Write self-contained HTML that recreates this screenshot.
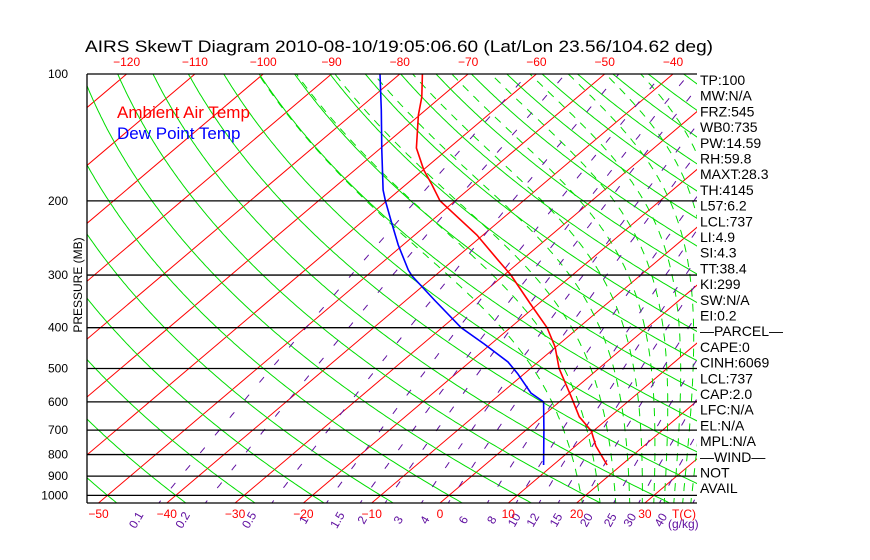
<!DOCTYPE html>
<html><head><meta charset="utf-8"><style>
html,body{margin:0;padding:0;background:#fff;width:870px;height:560px;overflow:hidden}
svg{display:block}
text{font-family:"Liberation Sans",sans-serif}
</style></head><body>
<svg id="chart" width="870" height="560" viewBox="0 0 870 560" xmlns="http://www.w3.org/2000/svg">
<rect x="0" y="0" width="870" height="560" fill="#fff"/>
<defs><clipPath id="plotclip"><rect x="87" y="74" width="610" height="429"/></clipPath></defs>
<text x="85" y="52" font-size="17" fill="#000" textLength="628" lengthAdjust="spacingAndGlyphs">AIRS SkewT Diagram 2010-08-10/19:05:06.60 (Lat/Lon 23.56/104.62 deg)</text>
<g id="grid" clip-path="url(#plotclip)"></g>
<g id="profiles" clip-path="url(#plotclip)"></g>
<g id="axes"></g>
<text x="117" y="118" font-size="17" fill="#f00">Ambient Air Temp</text>
<text x="117" y="139" font-size="17" fill="#00f">Dew Point Temp</text>
<text transform="translate(82,285) rotate(-90)" text-anchor="middle" font-size="12" fill="#000">PRESSURE (MB)</text>
<g id="indices" font-size="14" fill="#000"></g>
</svg>
<script>
// ---- data ----
const tempPressures = [100,113.4,125.1,149.8,169,183.4,200,241,274.8,300,349.5,400,444.5,500,584,651,703,764,847];
const tempValues = [-76.7,-72.8,-70.2,-64.8,-59.9,-56.1,-52.2,-40.9,-33.8,-29.0,-21.4,-14.6,-10.1,-5.8,0.9,5.5,9.7,13.0,17.9];
const dewPressures = [100,121.7,151.5,188.5,200,222,254.5,291.8,301.6,343.8,400,437.3,482.5,515,571.5,600,699.5,847];
const dewValues = [-82.9,-76.5,-69.5,-62.4,-60.2,-56.1,-50.7,-44.9,-43.3,-35.9,-27.2,-21.0,-14.4,-10.9,-5.7,-2.3,2.6,8.6];
const pressureLevels = [100,200,300,400,500,600,700,800,900,1000];
const topTicks = [-120,-110,-100,-90,-80,-70,-60,-50,-40];
const bottomTicks = [-50,-40,-30,-20,-10,0,10,20,30];
const isotherms = [-160,-150,-140,-130,-120,-110,-100,-90,-80,-70,-60,-50,-40,-30,-20,-10,0,10,20,30,40];
const dryThetasC = [-60,-50,-40,-30,-20,-10,0,10,20,30,40,50,60,70,80,90,100,110,120,130,140,150,160,170,180,190,200];
const moistThetaE = [330,340,350,360,370,380,390,400,410,420,430];
const mixRatios = [0.1,0.2,0.5,1,1.5,2,3,4,6,8,10,12,15,20,25,30,40];
const mixLabels = ["0.1","0.2","0.5","1","1.5","2","3","4","6","8","10","12","15","20","25","30","40"];
const indexLabels = ["TP:100","MW:N/A","FRZ:545","WB0:735","PW:14.59","RH:59.8","MAXT:28.3","TH:4145","L57:6.2","LCL:737","LI:4.9","SI:4.3","TT:38.4","KI:299","SW:N/A","EI:0.2","\u2014PARCEL\u2014","CAPE:0","CINH:6069","LCL:737","CAP:2.0","LFC:N/A","EL:N/A","MPL:N/A","\u2014WIND\u2014","NOT","AVAIL"];

// ---- axis functions ----
const TOP=74, BOT=503, LEFT=87, RIGHT=697;
const PY=183, TX=6.83, SKEW=1.18, X0=440;
function yP(p){return TOP+PY*Math.log(p/100);}
function xT(t,p){return X0+TX*t+SKEW*(BOT-yP(p));}
const NS="http://www.w3.org/2000/svg";
function mk(tag,attrs,parent){const e=document.createElementNS(NS,tag);for(const k in attrs)e.setAttribute(k,attrs[k]);parent.appendChild(e);return e;}
const grid=document.getElementById('grid'), prof=document.getElementById('profiles'), axes=document.getElementById('axes'), idx=document.getElementById('indices');
function es(tc){return 6.112*Math.exp(17.67*tc/(tc+243.5));}
const pList=[];for(let lp=Math.log(1060);lp>=Math.log(95);lp-=0.01)pList.push(Math.exp(lp));
function pathFrom(pts){return pts.map((q,i)=>(i?'L':'M')+q[0].toFixed(1)+' '+q[1].toFixed(1)).join(' ');}

// isotherms
isotherms.forEach(t=>{
  const el=mk('line',{x1:xT(t,1060),y1:yP(1060),x2:xT(t,95),y2:yP(95),stroke:'#f00','stroke-width':1},grid);
  
  
});
// dry adiabats
dryThetasC.forEach(th=>{
  const pts=pList.map(p=>[xT((th+273.15)*Math.pow(p/1000,0.2857)-273.15,p),yP(p)]);
  const el=mk('path',{d:pathFrom(pts),fill:'none',stroke:'#0d0','stroke-width':1},grid);
  
  
});
// moist adiabats (by equivalent potential temperature)
const Rd=287,cp=1004,Lv=2.5e6,eps=0.622;
function thetaE1000(tc){const e=es(tc);const rs=eps*e/(1000-e);const T=tc+273.15;return T*Math.exp(Lv*rs/(cp*T));}
function deriv(T,p){const e=es(T-273.15);const rs=eps*e/(p-e);return (Rd*T+Lv*rs)/(cp+Lv*Lv*rs*eps/(Rd*T*T));}
moistThetaE.forEach(te=>{
  let lo=-60,hi=50;
  for(let k=0;k<60;k++){const m=(lo+hi)/2;if(thetaE1000(m)<te)lo=m;else hi=m;}
  let T=(lo+hi)/2+273.15;
  const step=0.005;
  for(let l=Math.log(1000);l<Math.log(1060);l+=step){T+=deriv(T,Math.exp(l))*step;}
  const pts=[];
  for(let l=Math.log(1060);l>=Math.log(95);l-=step){const p=Math.exp(l);pts.push([xT(T-273.15,p),yP(p)]);T-=deriv(T,p)*step;}
  const el=mk('path',{d:pathFrom(pts),fill:'none',stroke:'#0d0','stroke-width':1,'stroke-dasharray':'8 7'},grid);
  
  
});
// mixing ratio lines
function mixT(w,p){const e=w*p/(622+w);const L=Math.log(e/6.112);return 243.5*L/(17.67-L);}
mixRatios.forEach((w,i)=>{
  const pts=pList.map(p=>[xT(mixT(w,p),p),yP(p)]);
  const el=mk('path',{d:pathFrom(pts),fill:'none',stroke:'#6010a0','stroke-width':1,'stroke-dasharray':'7 16'},grid);
  
  
  const lx=xT(mixT(w,1050),1050)-(18+0.25*w);
  const t=mk('text',{x:lx,y:522,'font-size':12,fill:'#6010a0','text-anchor':'middle',transform:`rotate(-60 ${lx} 522)`},axes);
  t.textContent=mixLabels[i];
  
  
});
// pressure lines + labels
pressureLevels.forEach(p=>{
  const y=yP(p);
  const l=mk('line',{x1:LEFT,y1:y,x2:RIGHT,y2:y,stroke:'#000','stroke-width':1.3},axes);
  
  
  const t=mk('text',{x:68,y:y+4,'font-size':12,fill:'#000','text-anchor':'end'},axes);
  t.textContent=String(p);
  
  
});
const b=mk('line',{x1:LEFT,y1:BOT,x2:RIGHT,y2:BOT,stroke:'#000','stroke-width':1.3},axes);


const lb=mk('line',{x1:LEFT,y1:TOP,x2:LEFT,y2:BOT,stroke:'#000','stroke-width':1.3},axes);


// top ticks
topTicks.forEach(t=>{
  const el=mk('text',{x:xT(t,100),y:66,'font-size':12,fill:'#f00','text-anchor':'middle'},axes);
  el.textContent=String(t).replace('-','\u2212');
  
  
});
// bottom ticks
bottomTicks.forEach(t=>{
  const el=mk('text',{x:X0+TX*t,y:518,'font-size':12,fill:'#f00','text-anchor':'middle'},axes);
  el.textContent=String(t).replace('-','\u2212');
  
  
});
const tc=mk('text',{x:672,y:518,'font-size':12,fill:'#f00'},axes);
tc.textContent='T(C)';


const gk=mk('text',{x:668,y:528,'font-size':12,fill:'#6010a0'},axes);
gk.textContent='(g/kg)';


// profiles
function prof_path(ps,ts,color,name){
  const pts=ps.map((p,i)=>[xT(ts[i],p),yP(p)]);
  const el=mk('path',{d:pathFrom(pts),fill:'none',stroke:color,'stroke-width':1.6},prof);
  
  
}
prof_path(tempPressures,tempValues,'#f00','temperature-profile');
prof_path(dewPressures,dewValues,'#00f','dewpoint-profile');
// indices
indexLabels.forEach((s,i)=>{
  const el=mk('text',{x:700,y:85+i*15.7},idx);
  el.textContent=s;
  
  
});
</script>
</body></html>
